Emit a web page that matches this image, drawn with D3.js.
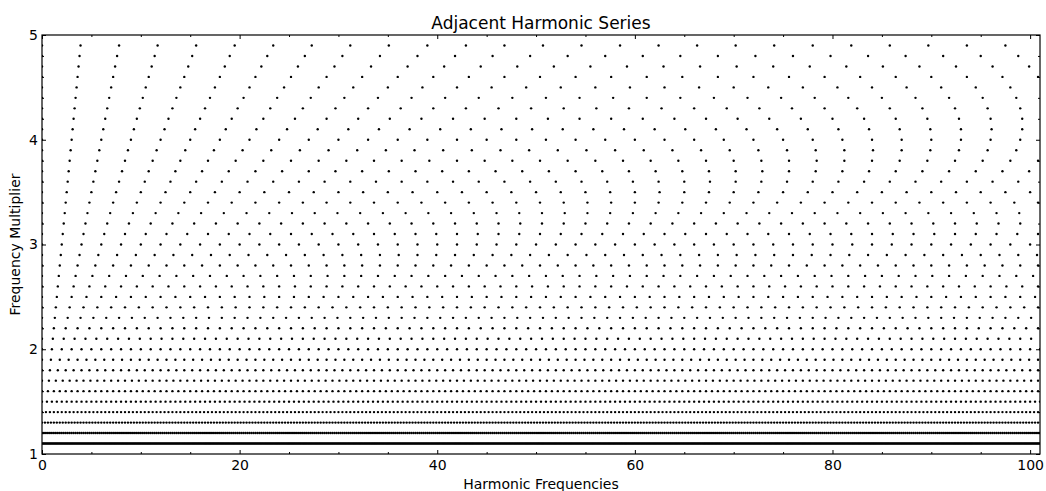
<!DOCTYPE html>
<html>
<head>
<meta charset="utf-8">
<script src="https://cdn.jsdelivr.net/npm/d3@7"></script>
<style>
  html, body { margin: 0; padding: 0; background: #fff; }
  svg { display: block; }
  text { font-family: "DejaVu Sans", sans-serif; fill: #000; }
</style>
</head>
<body>
<svg id="chart" width="1046" height="491"></svg>
<script>
// ---- data ----
const title = "Adjacent Harmonic Series";
const xLabel = "Harmonic Frequencies";
const yLabel = "Frequency Multiplier";
// frequency multipliers (one row of harmonics per multiplier)
const multipliers = [1.1, 1.2, 1.3, 1.4, 1.5, 1.6, 1.7, 1.8, 1.9, 2.0,
  2.1, 2.2, 2.3, 2.4, 2.5, 2.6, 2.7, 2.8, 2.9, 3.0,
  3.1, 3.2, 3.3, 3.4, 3.5, 3.6, 3.7, 3.8, 3.9, 4.0,
  4.1, 4.2, 4.3, 4.4, 4.5, 4.6, 4.7, 4.8, 4.9];
const xDomain = [0, 101];
const yDomain = [1, 5];
const xMajorTicks = [0, 20, 40, 60, 80, 100];
const xMinorTicks = [5, 10, 15, 25, 30, 35, 45, 50, 55, 65, 70, 75, 85, 90, 95];
const yMajorTicks = [1, 2, 3, 4, 5];
const yMinorTicks = [1.2, 1.4, 1.6, 1.8, 2.2, 2.4, 2.6, 2.8, 3.2, 3.4, 3.6, 3.8, 4.2, 4.4, 4.6, 4.8];

// harmonic series for each multiplier: spacing = multiplier - 1
const points = [];
multipliers.forEach(m => {
  const step = Math.round((m - 1) * 10) / 10;
  for (let k = 0; k * step <= xDomain[1] + step; k++) {
    points.push({ x: k * step, y: m });
  }
});

// ---- layout ----
const svg = d3.select("#chart");
const mL = 42, mR = 1040, mT = 35, mB = 454;
const x = d3.scaleLinear().domain(xDomain).range([mL, mR]);
const y = d3.scaleLinear().domain(yDomain).range([mB, mT]);

svg.append("defs").append("clipPath").attr("id", "clip")
  .append("rect").attr("x", mL).attr("y", mT)
  .attr("width", mR - mL).attr("height", mB - mT);

svg.append("g").attr("clip-path", "url(#clip)")
  .selectAll("circle").data(points).join("circle")
  .attr("cx", d => x(d.x)).attr("cy", d => y(d.y))
  .attr("r", 1.2).attr("fill", "#000");

// axes (ticks inward on all four sides)
function axisG(axis, tx, ty) {
  const g = svg.append("g").attr("transform", `translate(${tx},${ty})`).call(axis);
  g.select(".domain").remove();
  g.selectAll("line").attr("stroke", "#000");
  return g;
}
const fmt = d3.format("d");
// bottom
const gb = axisG(d3.axisBottom(x).tickValues(xMajorTicks).tickSizeInner(-4).tickSizeOuter(0).tickPadding(6).tickFormat(fmt), 0, mB);
gb.selectAll("text").style("font-size", "14px").style("font-family", "DejaVu Sans, sans-serif");
axisG(d3.axisBottom(x).tickValues(xMinorTicks).tickSizeInner(-2).tickSizeOuter(0).tickFormat(""), 0, mB);
// top
axisG(d3.axisTop(x).tickValues(xMajorTicks).tickSizeInner(-4).tickSizeOuter(0).tickFormat(""), 0, mT);
axisG(d3.axisTop(x).tickValues(xMinorTicks).tickSizeInner(-2).tickSizeOuter(0).tickFormat(""), 0, mT);
// left
const gl = axisG(d3.axisLeft(y).tickValues(yMajorTicks).tickSizeInner(-4).tickSizeOuter(0).tickPadding(4).tickFormat(fmt), mL, 0);
gl.selectAll("text").style("font-size", "14px").style("font-family", "DejaVu Sans, sans-serif");
axisG(d3.axisLeft(y).tickValues(yMinorTicks).tickSizeInner(-2).tickSizeOuter(0).tickFormat(""), mL, 0);
// right
axisG(d3.axisRight(y).tickValues(yMajorTicks).tickSizeInner(-4).tickSizeOuter(0).tickFormat(""), mR, 0);
axisG(d3.axisRight(y).tickValues(yMinorTicks).tickSizeInner(-2).tickSizeOuter(0).tickFormat(""), mR, 0);

// frame
svg.append("rect").attr("x", mL).attr("y", mT)
  .attr("width", mR - mL).attr("height", mB - mT)
  .attr("fill", "none").attr("stroke", "#000").attr("stroke-width", 1.2);

// titles
svg.append("text").attr("x", (mL + mR) / 2).attr("y", 29)
  .attr("text-anchor", "middle").style("font-size", "17px").text(title);
svg.append("text").attr("x", (mL + mR) / 2).attr("y", 489)
  .attr("text-anchor", "middle").style("font-size", "14px").text(xLabel);
svg.append("text")
  .attr("transform", `translate(20,${(mT + mB) / 2}) rotate(-90)`)
  .attr("text-anchor", "middle").style("font-size", "14px").text(yLabel);
</script>
</body>
</html>
